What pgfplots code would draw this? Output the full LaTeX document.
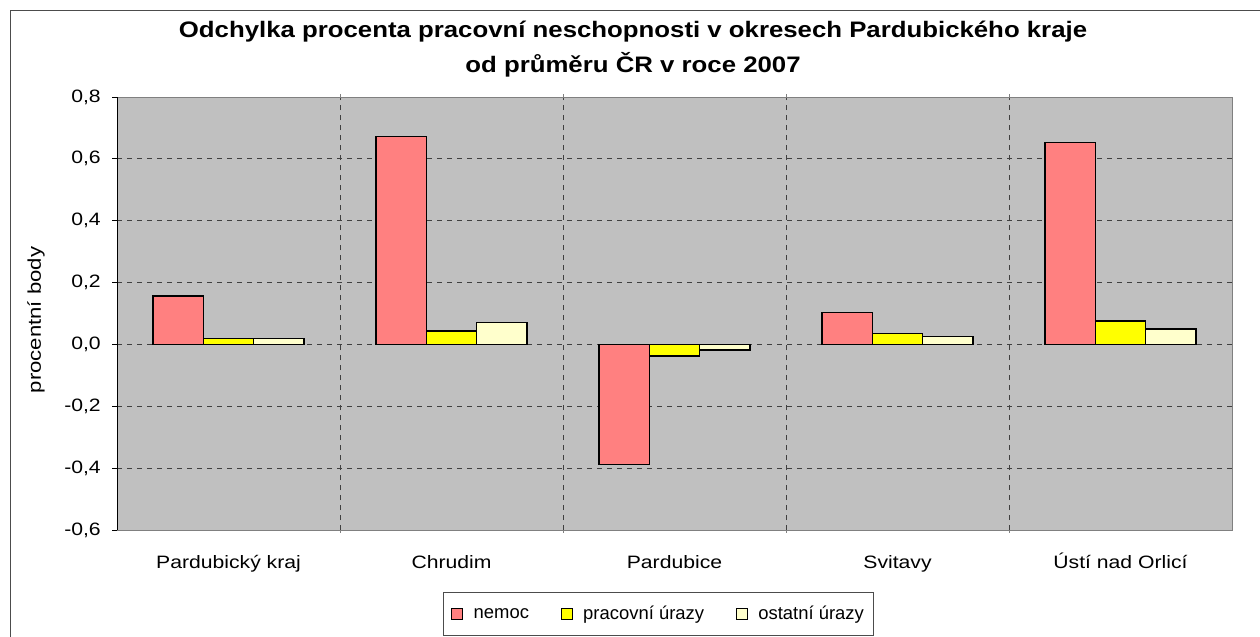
\documentclass[border=0pt]{standalone}
\usepackage{pgfplots}
\pgfplotsset{compat=1.18}
\usepackage{fontspec}
\setmainfont{Liberation Sans}
\definecolor{plotgray}{HTML}{C0C0C0}
\definecolor{cnemoc}{HTML}{FF8080}
\definecolor{cprac}{HTML}{FFFF00}
\definecolor{costat}{HTML}{FFFFCC}
\begin{document}
\begin{tikzpicture}
\useasboundingbox (0bp,0bp) rectangle (1260bp,-637bp);
\draw[black!70, line width=1.2bp] (10.5bp,-10.5bp) rectangle (1275bp,-650bp);
\node[font=\fontsize{22.5}{26}\selectfont\bfseries, xscale=1.15] at (633bp,-32bp) {Odchylka procenta pracovní neschopnosti v okresech Pardubického kraje};
\node[font=\fontsize{22.5}{26}\selectfont\bfseries, xscale=1.15] at (633bp,-65bp) {od průměru ČR v roce 2007};
\node[rotate=90, xscale=1.2, font=\fontsize{18.5}{22}\selectfont] at (36bp,-320bp) {procentní body};
\begin{axis}[
  at={(117bp,-530bp)}, anchor=south west, scale only axis,
  width=1115bp, height=433bp,
  xmin=-0.5, xmax=4.5, ymin=-0.6, ymax=0.8,
  axis background/.style={fill=plotgray},
  axis line style={draw=black!50, line width=0.8bp},
  ybar=0pt, bar width=0.226,
  xtick={0,1,2,3,4},
  xticklabels={Pardubický kraj, Chrudim, Pardubice, Svitavy, Ústí nad Orlicí},
  major x tick style={draw=none},
  minor xtick={0.5,1.5,2.5,3.5},
  xminorgrids,
  minor x grid style={black!75, line width=0.8bp, dash pattern=on 5bp off 5bp},
  ytick={-0.6,-0.4,-0.2,0,0.2,0.4,0.6,0.8},
  ymajorgrids,
  major y grid style={black!75, line width=0.8bp, dash pattern=on 5bp off 5bp},
  extra y ticks={0}, extra y tick labels={},
  extra y tick style={grid=major, major grid style={solid, black!75, line width=1bp}, major tick length=0pt},
  ytick pos=left, tick align=outside, major tick length=5bp,
  ytick style={black, line width=0.8bp},
  /pgf/number format/assume math mode=true,
  yticklabel={\pgfmathprintnumber[fixed, fixed zerofill, precision=1, use comma]{\tick}},
  tick label style={font=\fontsize{18}{21}\selectfont, xscale=1.18},
  xticklabel style={anchor=base, yshift=-33bp},
  yticklabel style={xshift=-6bp},
  legend columns=3,
  legend style={at={(0.2924,-0.1432)}, anchor=north west, draw=black!70, line width=0.8bp,
    font=\fontsize{18.5}{22}\selectfont, inner xsep=8bp, inner ysep=12bp,
    /tikz/every even column/.append style={column sep=30bp}},
  legend image code/.code={\draw[#1, line width=1bp] (0bp,-5.5bp) rectangle (11bp,5.5bp); \path (19bp,0bp);},
]
\addplot[fill=cnemoc, draw=black, line width=1.5bp] coordinates {(0,0.157) (1,0.673) (2,-0.388) (3,0.103) (4,0.653)};
\addplot[fill=cprac, draw=black, line width=1.5bp] coordinates {(0,0.019) (1,0.044) (2,-0.037) (3,0.036) (4,0.076)};
\addplot[fill=costat, draw=black, line width=1.5bp] coordinates {(0,0.019) (1,0.071) (2,-0.018) (3,0.026) (4,0.050)};
\legend{nemoc, pracovní úrazy, ostatní úrazy}
\draw[black, line width=1bp] (rel axis cs:0,0) -- (rel axis cs:0,1);
\end{axis}
\end{tikzpicture}
\end{document}
